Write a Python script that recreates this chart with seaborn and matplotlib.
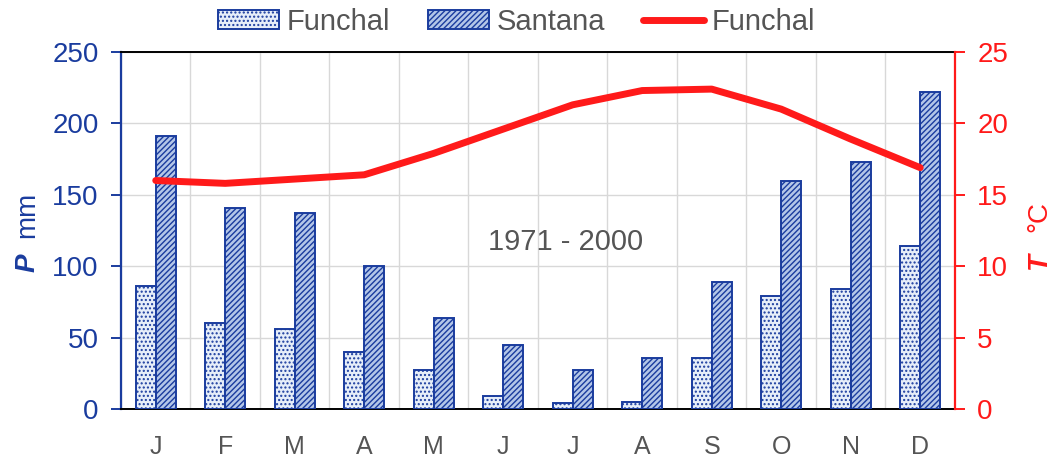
import matplotlib
matplotlib.use("Agg")
import matplotlib.pyplot as plt
import numpy as np
import pandas as pd
import seaborn as sns
from matplotlib.patches import Patch
from matplotlib.lines import Line2D

meses = ["J", "F", "M", "A", "M", "J", "J", "A", "S", "O", "N", "D"]
p_funchal = [86, 60, 56, 40, 27, 9, 4, 5, 36, 79, 84, 114]
p_santana = [191, 141, 137, 100, 64, 45, 27, 36, 89, 160, 173, 222]
t_funchal = [16.0, 15.8, 16.1, 16.4, 17.9, 19.6, 21.3, 22.3, 22.4, 21.0, 18.9, 16.9]

azul = "#1a3c9e"
rojo = "#ff1a1a"
gris = "#555555"

sns.set_theme(style="white")
plt.rcParams["font.family"] = ["Liberation Sans", "DejaVu Sans"]
plt.rcParams["hatch.linewidth"] = 1.0

df = pd.DataFrame({
    "mes": list(range(12)) * 2,
    "P": p_funchal + p_santana,
    "estacion": ["Funchal"] * 12 + ["Santana"] * 12,
})

fig = plt.figure(figsize=(10.54, 4.58), dpi=100)
ax = fig.add_axes([0.1148, 0.107, 0.7912, 0.7795])

sns.barplot(data=df, x="mes", y="P", hue="estacion", hue_order=["Funchal", "Santana"],
            errorbar=None, width=0.58, legend=False, ax=ax, zorder=3)

for i, bar in enumerate(ax.patches[:24]):
    if i < 12:
        bar.set_facecolor("#e6eef9")
        bar.set_hatch("....")
    else:
        bar.set_facecolor("#b3c6e8")
        bar.set_hatch("//////")
    bar.set_edgecolor(azul)
    bar.set_linewidth(1.4)

ax.set_xlim(-0.5, 11.5)
ax.set_ylim(0, 250)
ax.set_yticks(range(0, 251, 50))
ax.set_xticks(range(12))
ax.set_xticklabels(meses)
ax.set_xticks(np.arange(-0.5, 12, 1), minor=True)
ax.set_xlabel("")
ax.set_ylabel("")
ax.grid(False)
ax.grid(True, which="minor", axis="x", color="#d8d8d8", lw=1, zorder=0)
ax.grid(True, which="major", axis="y", color="#d8d8d8", lw=1, zorder=0)
ax.set_axisbelow(True)
ax.tick_params(axis="x", which="major", length=0, labelsize=18, labelcolor=gris, pad=19)
ax.tick_params(axis="x", which="minor", length=8, width=1.4, color="black", direction="out")
ax.tick_params(axis="y", length=7, width=1.4, color=azul, labelcolor=azul, labelsize=20,
               direction="out", left=True, pad=9)
for s in ["top", "bottom"]:
    ax.spines[s].set_color("black")
    ax.spines[s].set_linewidth(1.4)
ax.spines["left"].set_color(azul)
ax.spines["left"].set_linewidth(1.6)

ax2 = ax.twinx()
sns.lineplot(x=np.arange(12), y=t_funchal, color=rojo, lw=5, ax=ax2, zorder=5)
ax2.set_ylim(0, 25)
ax2.set_yticks(range(0, 26, 5))
ax2.grid(False)
ax2.tick_params(axis="y", length=7, width=1.4, color=rojo, labelcolor=rojo, labelsize=20,
                direction="out", right=True, pad=9)
ax2.spines["right"].set_color(rojo)
ax2.spines["right"].set_linewidth(1.6)
ax2.spines["left"].set_visible(False)
ax2.spines["top"].set_visible(False)
ax2.spines["bottom"].set_visible(False)
ax2.set_xlim(-0.5, 11.5)
ax2.set_ylabel("")

ax.text(5.9, 117, "1971 - 2000", ha="center", va="center", fontsize=21, color=gris)

fig.text(0.026, 0.427, "P", rotation=90, color=azul, fontsize=20, fontweight="bold",
         fontstyle="italic", ha="center", va="center")
fig.text(0.026, 0.53, "mm", rotation=90, color=azul, fontsize=20, ha="center", va="center")
fig.text(0.986, 0.43, "T", rotation=90, color=rojo, fontsize=20, fontweight="bold",
         fontstyle="italic", ha="center", va="center")
fig.text(0.986, 0.527, "°C", rotation=90, color=rojo, fontsize=20, ha="center", va="center")

handles = [
    Patch(facecolor="#e6eef9", edgecolor=azul, hatch="....", lw=1.4),
    Patch(facecolor="#b3c6e8", edgecolor=azul, hatch="//////", lw=1.4),
    Line2D([], [], color=rojo, lw=5, solid_capstyle="round"),
]
leg = fig.legend(handles, ["Funchal", "Santana", "Funchal"], loc="center",
                 bbox_to_anchor=(0.49, 0.952), ncol=3, frameon=False, fontsize=21,
                 handlelength=2.1, handleheight=0.6, handletextpad=0.25, columnspacing=1.3)
for t in leg.get_texts():
    t.set_color(gris)

fig.savefig("out.png", dpi=100)
